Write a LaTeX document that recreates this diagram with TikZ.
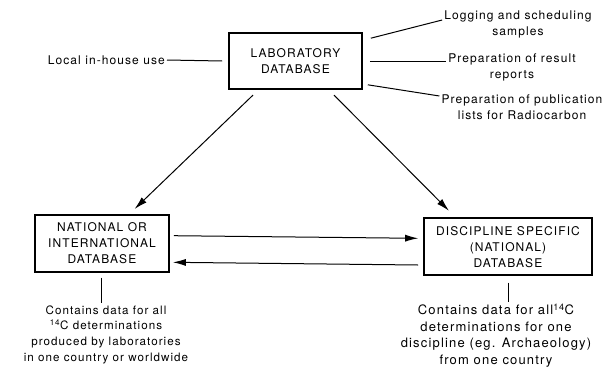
\documentclass[tikz,border=0pt]{standalone}
\usepackage{fontspec}
\setmainfont{TeX Gyre Heros}[LetterSpace=9]
\usetikzlibrary{arrows.meta}
\begin{document}
\begin{tikzpicture}[x=1pt, y=-1pt,
        every node/.style={font=\fontsize{12}{16}\selectfont},
        dbbox/.style={draw, line width=1.6pt, align=center, inner sep=0pt},
        note/.style={align=center, inner sep=2pt},
        link/.style={line width=1pt},
        flow/.style={line width=1pt, -{Latex[length=13pt,width=7pt]}}]
    \useasboundingbox (0,0) rectangle (604,370);
    % the three databases
    \node[dbbox, minimum width=133pt, minimum height=56pt] (lab) at (295.5,61) {LABORATORY\\DATABASE};
    \node[dbbox, minimum width=134pt, minimum height=57pt] (nat) at (102,243.3) {NATIONAL OR\\INTERNATIONAL\\DATABASE};
    \node[dbbox, minimum width=168pt, minimum height=57pt] (disc) at (508,246.7) {DISCIPLINE SPECIFIC\\(NATIONAL)\\DATABASE};
    % uses of the laboratory database
    \node[note, left] (local) at (167,60) {Local in-house use};
    \node[note] (log) at (518,24) {Logging and scheduling\\samples};
    \node[note] (res) at (512,67) {Preparation of result\\reports};
    \node[note] (pub) at (522,107.5) {Preparation of publication\\lists for Radiocarbon};
    \draw[link] (local.east) -- ([xshift=-6pt]lab.west);
    \draw[link] ([xshift=8pt,yshift=-6pt]lab.north east) -- ([yshift=4pt]log.west);
    \draw[link] ([xshift=7pt,yshift=-0.7pt]lab.east) -- ([yshift=5.3pt]res.west);
    \draw[link] ([xshift=5pt,yshift=5pt]lab.south east) -- ([yshift=11.5pt]pub.west);
    % flow of data
    \draw[flow] ([xshift=-42.5pt,yshift=-5.3pt]lab.south) -- ([xshift=32.6pt,yshift=5pt]nat.north);
    \draw[flow] ([xshift=38.5pt,yshift=-5.3pt]lab.south) -- ([xshift=-59pt,yshift=6.6pt]disc.north);
    \draw[flow] ([xshift=4pt,yshift=7.6pt]nat.east) -- ([xshift=-5pt,yshift=8.4pt]disc.west);
    \draw[flow] ([xshift=-5pt,yshift=-18.3pt]disc.west) -- ([xshift=3pt,yshift=-19pt]nat.east);
    % contents
    \node[note, font=\fontsize{11.6}{15.7}\selectfont] (natinfo) at (106,334.5) {Contains data for all\\\textsuperscript{14}C determinations\\produced by laboratories\\in one country or worldwide};
    \node[note, font=\fontsize{13}{16.4}\selectfont] (discinfo) at (496,335.5) {Contains data for all\textsuperscript{14}C\\determinations for one\\discipline (eg. Archaeology)\\from one country};
    \draw[link] ([xshift=-1pt,yshift=-5pt]nat.south) -- ([xshift=-5pt]natinfo.north);
    \draw[link] ([xshift=0.5pt,yshift=-6.7pt]disc.south) -- ([xshift=12.5pt]discinfo.north);
\end{tikzpicture}
\end{document}
